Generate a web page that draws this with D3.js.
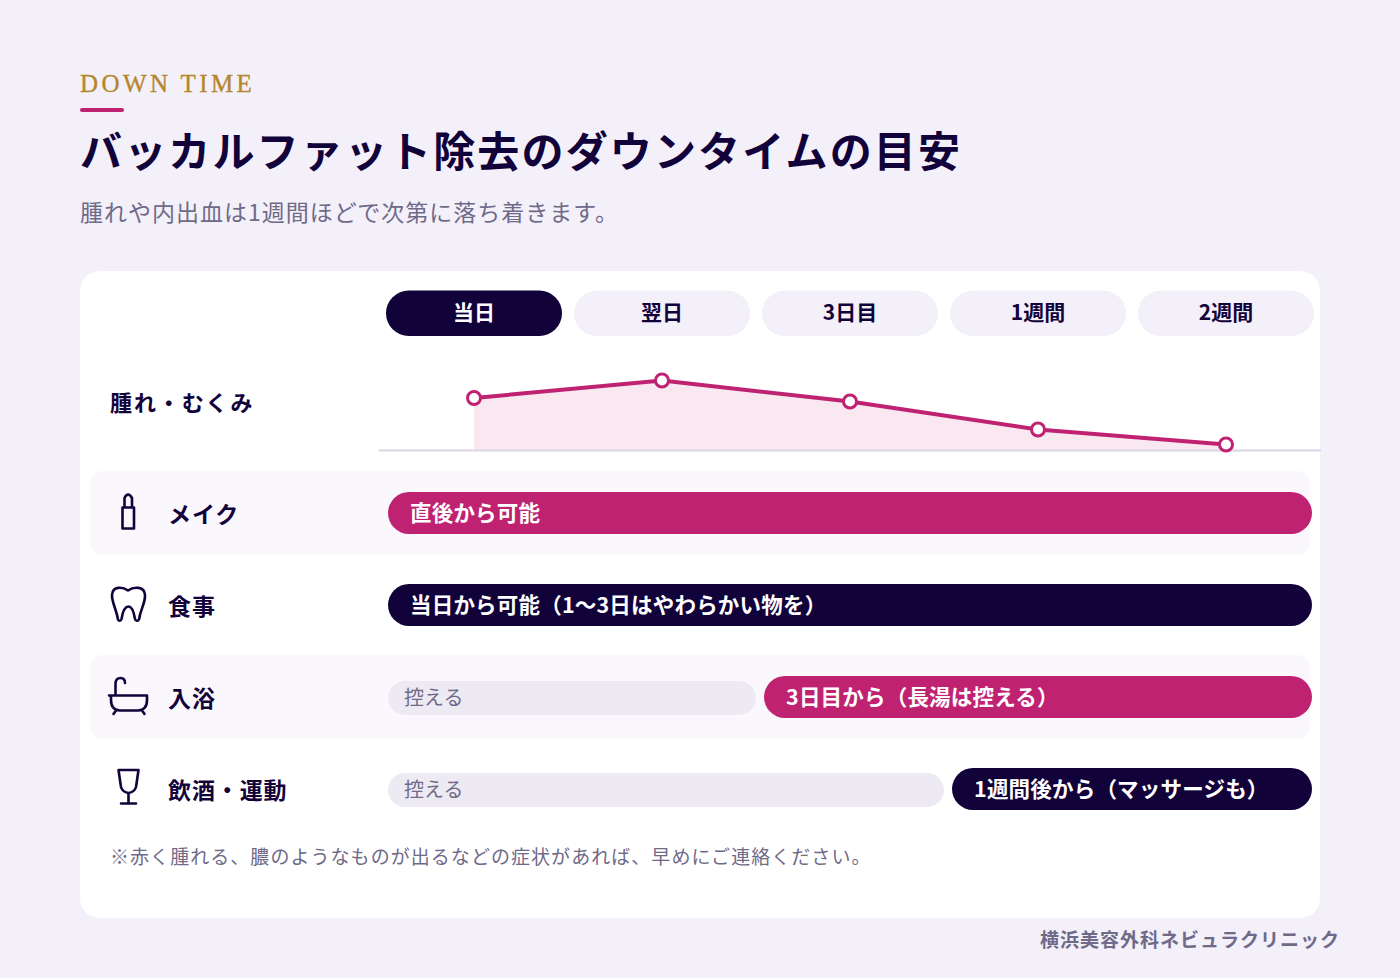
<!DOCTYPE html>
<html>
<head>
<meta charset="utf-8">
<script src="https://cdn.jsdelivr.net/npm/d3@7"></script>
<style>
html, body { margin: 0; padding: 0; background: #f3f0fa; }
svg { display: block; }
text { font-family: "Noto Sans CJK JP", sans-serif; }
</style>
</head>
<body>
<div id="chart"></div>
<script>
var days = ["当日", "翌日", "3日目", "1週間", "2週間"];
var swelling = [52, 69.5, 48.5, 20.5, 5.5];

var rowNames = ["メイク", "食事", "入浴", "飲酒・運動"];
var restLabels = [null, null, "控える", "控える"];
var restColumns = [0, 0, 2, 3];
var barLabels = ["直後から可能", "当日から可能（1〜3日はやわらかい物を）", "3日目から（長湯は控える）", "1週間後から（マッサージも）"];
var barKinds = ["pink", "navy", "pink", "navy"];

var navy = "#12023a", pink = "#c02272", muted = "#6f6a88";

var width = 1400, height = 978;

var svg = d3.select("#chart")
    .append("svg")
    .attr("width", width)
    .attr("height", height)
    .attr("viewBox", "0 0 " + width + " " + height);

svg.append("rect").attr("width", width).attr("height", height).attr("fill", "#f3f0fa");

// heading
svg.append("text")
    .attr("x", 80).attr("y", 92)
    .attr("fill", "#b5872d")
    .attr("stroke", "#b5872d")
    .attr("stroke-width", 0.35)
    .attr("font-size", 25)
    .attr("letter-spacing", 3.4)
    .style("font-family", "'Liberation Serif', serif")
    .text("DOWN TIME");

svg.append("rect")
    .attr("x", 80).attr("y", 108)
    .attr("width", 44).attr("height", 4).attr("rx", 2)
    .attr("fill", pink);

svg.append("text")
    .attr("x", 80).attr("y", 167)
    .attr("fill", navy)
    .attr("font-size", 42)
    .attr("font-weight", 700)
    .attr("letter-spacing", 2.15)
    .text("バッカルファット除去のダウンタイムの目安");

svg.append("text")
    .attr("x", 80).attr("y", 221)
    .attr("fill", muted)
    .attr("font-size", 23)
    .attr("letter-spacing", 1)
    .text("腫れや内出血は1週間ほどで次第に落ち着きます。");

// card
svg.append("rect")
    .attr("x", 80).attr("y", 271)
    .attr("width", 1240).attr("height", 647).attr("rx", 20)
    .attr("fill", "#fff");

var x = d3.scaleBand()
    .domain(days)
    .range([380, 1320]);

var y = d3.scaleLinear()
    .domain([0, 100])
    .range([450, 350]);

var rowY = d3.scalePoint()
    .domain(rowNames)
    .range([513, 789]);

// header pills
var heads = svg.append("g").selectAll("g")
    .data(days)
    .enter().append("g");

heads.append("rect")
    .attr("x", function(d) { return x(d) + 6; })
    .attr("y", 290.5)
    .attr("width", x.bandwidth() - 12)
    .attr("height", 45.5)
    .attr("rx", 22.75)
    .attr("fill", function(d, i) { return i == 0 ? navy : "#f3f0fa"; });

heads.append("text")
    .attr("x", function(d) { return x(d) + x.bandwidth() / 2; })
    .attr("y", 320)
    .attr("text-anchor", "middle")
    .attr("font-size", 21)
    .attr("font-weight", 700)
    .attr("fill", function(d, i) { return i == 0 ? "#fff" : navy; })
    .text(function(d) { return d; });

// swelling curve
var cx = function(d, i) { return x(days[i]) + x.bandwidth() / 2; };

svg.append("text")
    .attr("x", 110).attr("y", 411)
    .attr("font-size", 22)
    .attr("font-weight", 700)
    .attr("letter-spacing", 1.9)
    .attr("fill", navy)
    .text("腫れ・むくみ");

svg.append("path")
    .datum(swelling)
    .attr("fill", "#f9e8f0")
    .attr("d", d3.area().x(cx).y0(y(0)).y1(function(d) { return y(d); }));

svg.append("line")
    .attr("x1", 379).attr("x2", 1321)
    .attr("y1", 450.5).attr("y2", 450.5)
    .attr("stroke", "#dbd5ea")
    .attr("stroke-width", 2);

svg.append("path")
    .datum(swelling)
    .attr("fill", "none")
    .attr("stroke", pink)
    .attr("stroke-width", 4)
    .attr("d", d3.line().x(cx).y(function(d) { return y(d); }));

svg.selectAll(".pt")
    .data(swelling)
    .enter().append("circle")
    .attr("class", "pt")
    .attr("cx", cx)
    .attr("cy", function(d) { return y(d); })
    .attr("r", 6.5)
    .attr("fill", "#fff")
    .attr("stroke", pink)
    .attr("stroke-width", 3);

// rows
var rows = svg.append("g").selectAll("g")
    .data(rowNames)
    .enter().append("g");

rows.filter(function(d, i) { return i % 2 == 0; })
    .append("rect")
    .attr("x", 90)
    .attr("y", function(d) { return rowY(d) - 42; })
    .attr("width", 1220)
    .attr("height", 84)
    .attr("rx", 12)
    .attr("fill", "#faf8fd");

rows.append("text")
    .attr("x", 168)
    .attr("y", function(d) { return rowY(d) + 10; })
    .attr("font-size", 23)
    .attr("font-weight", 700)
    .attr("letter-spacing", 0.9)
    .attr("fill", navy)
    .text(function(d) { return d; });

// grey "hold off" part of a row
var rests = rows.filter(function(d, i) { return restLabels[i] != null; });

rests.append("rect")
    .attr("x", 388)
    .attr("y", function(d) { return rowY(d) - 16; })
    .attr("width", function(d) { return x(days[restColumns[rowNames.indexOf(d)]]) - 388; })
    .attr("height", 34)
    .attr("rx", 17)
    .attr("fill", "#edeaf4");

rests.append("text")
    .attr("x", 404)
    .attr("y", function(d) { return rowY(d) + 8; })
    .attr("font-size", 20)
    .attr("fill", muted)
    .text(function(d) { return restLabels[rowNames.indexOf(d)]; });

// main bars
var barStart = function(d) {
    var i = rowNames.indexOf(d);
    return x(days[restColumns[i]]) + 8;
};

rows.append("rect")
    .attr("x", barStart)
    .attr("y", function(d) { return rowY(d) - 21; })
    .attr("width", function(d) { return 1312 - barStart(d); })
    .attr("height", 42)
    .attr("rx", 21)
    .attr("fill", function(d, i) { return barKinds[i] == "pink" ? pink : navy; });

rows.append("text")
    .attr("x", function(d) { return barStart(d) + 22; })
    .attr("y", function(d) { return rowY(d) + 7.5; })
    .attr("font-size", 21.5)
    .attr("font-weight", 700)
    .attr("letter-spacing", 0.2)
    .attr("fill", "#fff")
    .text(function(d, i) { return barLabels[i]; });

// icons
var icons = svg.append("g")
    .attr("fill", "none")
    .attr("stroke", navy)
    .attr("stroke-width", 2.6)
    .attr("stroke-linecap", "round")
    .attr("stroke-linejoin", "round");

// lipstick
icons.append("path").attr("d", "M122.5 528.5V507.5H134V528.5ZM124.5 507.5V498Q128 491 132 498V507.5");
// tooth
icons.append("path").attr("d", "M128 590.5C123 587 112.5 585.5 112 595C111.8 603 116.5 609 118 619.5C119 621.5 121 621 121.5 619C122.5 613 124.5 606.5 128.5 606.5C132.5 606.5 134 613 135 619C135.5 621 138 621.5 139 619.5C140.5 609 145.5 603 145 595C144.5 585.5 133 587 128 590.5Z");
// bath
icons.append("path").attr("d", "M109 695.5H147M111 695.5V700Q111 710 120 710.5H138Q147 710 147 700V695.5M115.5 695V683Q116 678 120.5 678Q125 678 125 683M116 710.5L113.5 714M142 710.5L144.5 714");
// glass
icons.append("path").attr("d", "M118.5 770H138.5L136 787Q134.5 792 128.5 793Q122.5 792 121 787ZM128.5 793V803.5M121 803.5H136");

// note and source
svg.append("text")
    .attr("x", 110).attr("y", 863.5)
    .attr("font-size", 19)
    .attr("letter-spacing", 1.05)
    .attr("fill", muted)
    .text("※赤く腫れる、膿のようなものが出るなどの症状があれば、早めにご連絡ください。");

svg.append("text")
    .attr("x", 1340).attr("y", 947)
    .attr("text-anchor", "end")
    .attr("font-size", 19)
    .attr("font-weight", 700)
    .attr("letter-spacing", 1)
    .attr("fill", muted)
    .text("横浜美容外科ネビュラクリニック");
</script>
</body>
</html>
